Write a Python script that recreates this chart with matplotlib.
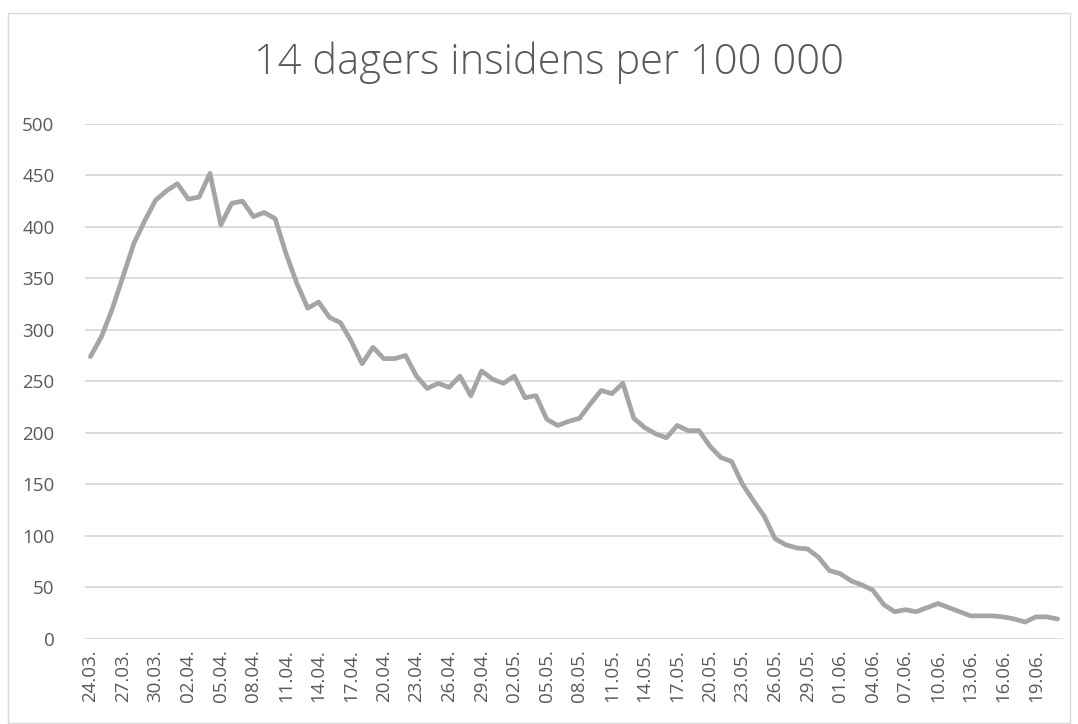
import matplotlib
matplotlib.use("Agg")
import matplotlib.pyplot as plt
from matplotlib.patches import Rectangle
import pandas as pd

# 14-day incidence per 100 000, daily from 24.03 to 21.06
start_date = "2020-03-24"
incidence = [
    274, 293, 320, 352, 384, 406, 426, 435, 442, 427,   # 24.03 - 02.04
    429, 452, 402, 423, 425, 410, 414, 408, 374, 345,   # 03.04 - 12.04
    321, 327, 312, 307, 289, 267, 283, 272, 272, 275,   # 13.04 - 22.04
    255, 243, 248, 244, 255, 236, 260, 252, 248, 255,   # 23.04 - 02.05
    234, 236, 213, 207, 211, 214, 228, 241, 238, 248,   # 03.05 - 12.05
    214, 205, 199, 195, 207, 202, 202, 187, 176, 172,   # 13.05 - 22.05
    150, 134, 119, 97, 91, 88, 87, 79, 66, 63,          # 23.05 - 01.06
    56, 52, 47, 33, 26, 28, 26, 30, 34, 30,             # 02.06 - 11.06
    26, 22, 22, 22, 21, 19, 16, 21, 21, 19,             # 12.06 - 21.06
]
dates = pd.date_range(start_date, periods=len(incidence), freq="D")
labels = [d.strftime("%d.%m.") for d in dates]

title = "14 dagers insidens per 100 000"
y_ticks = list(range(0, 501, 50))

plt.rcParams["font.family"] = ["Open Sans", "DejaVu Sans"]
text_col = "#595959"
grid_col = "#d9d9d9"
line_col = "#a5a5a5"

fig = plt.figure(figsize=(10.78, 7.24), dpi=100)
W, H = 1078, 724

# chart border
fig.patches.append(Rectangle((8 / W, 1 / H), 1062 / W, 710 / H, transform=fig.transFigure,
                             fill=False, edgecolor=grid_col, linewidth=1.0))

ax = fig.add_axes([85 / W, (H - 638.5) / H, 978 / W, (638.5 - 124) / H])

x = list(range(len(incidence)))
ax.plot(x, incidence, color=line_col, linewidth=3.4, solid_joinstyle="round",
        solid_capstyle="round", zorder=3)

ax.set_xlim(-0.5, len(incidence) - 0.5)
ax.set_ylim(0, 500)
ax.set_yticks(y_ticks)
ax.set_yticklabels([str(v) for v in y_ticks])
ax.set_xticks(x[::3])
ax.set_xticklabels(labels[::3], rotation=90)
ax.grid(axis="y", color=grid_col, linewidth=1.3)
ax.set_axisbelow(True)
for s in ax.spines.values():
    s.set_visible(False)
ax.tick_params(axis="both", length=0, colors=text_col, labelsize=13.5)
ax.tick_params(axis="y", pad=22)
ax.tick_params(axis="x", pad=8)

fig.text(0.509, (H - 63) / H, title, ha="center", va="center", fontsize=30,
         color=text_col, fontweight="light")

fig.savefig("out.png", dpi=100)
